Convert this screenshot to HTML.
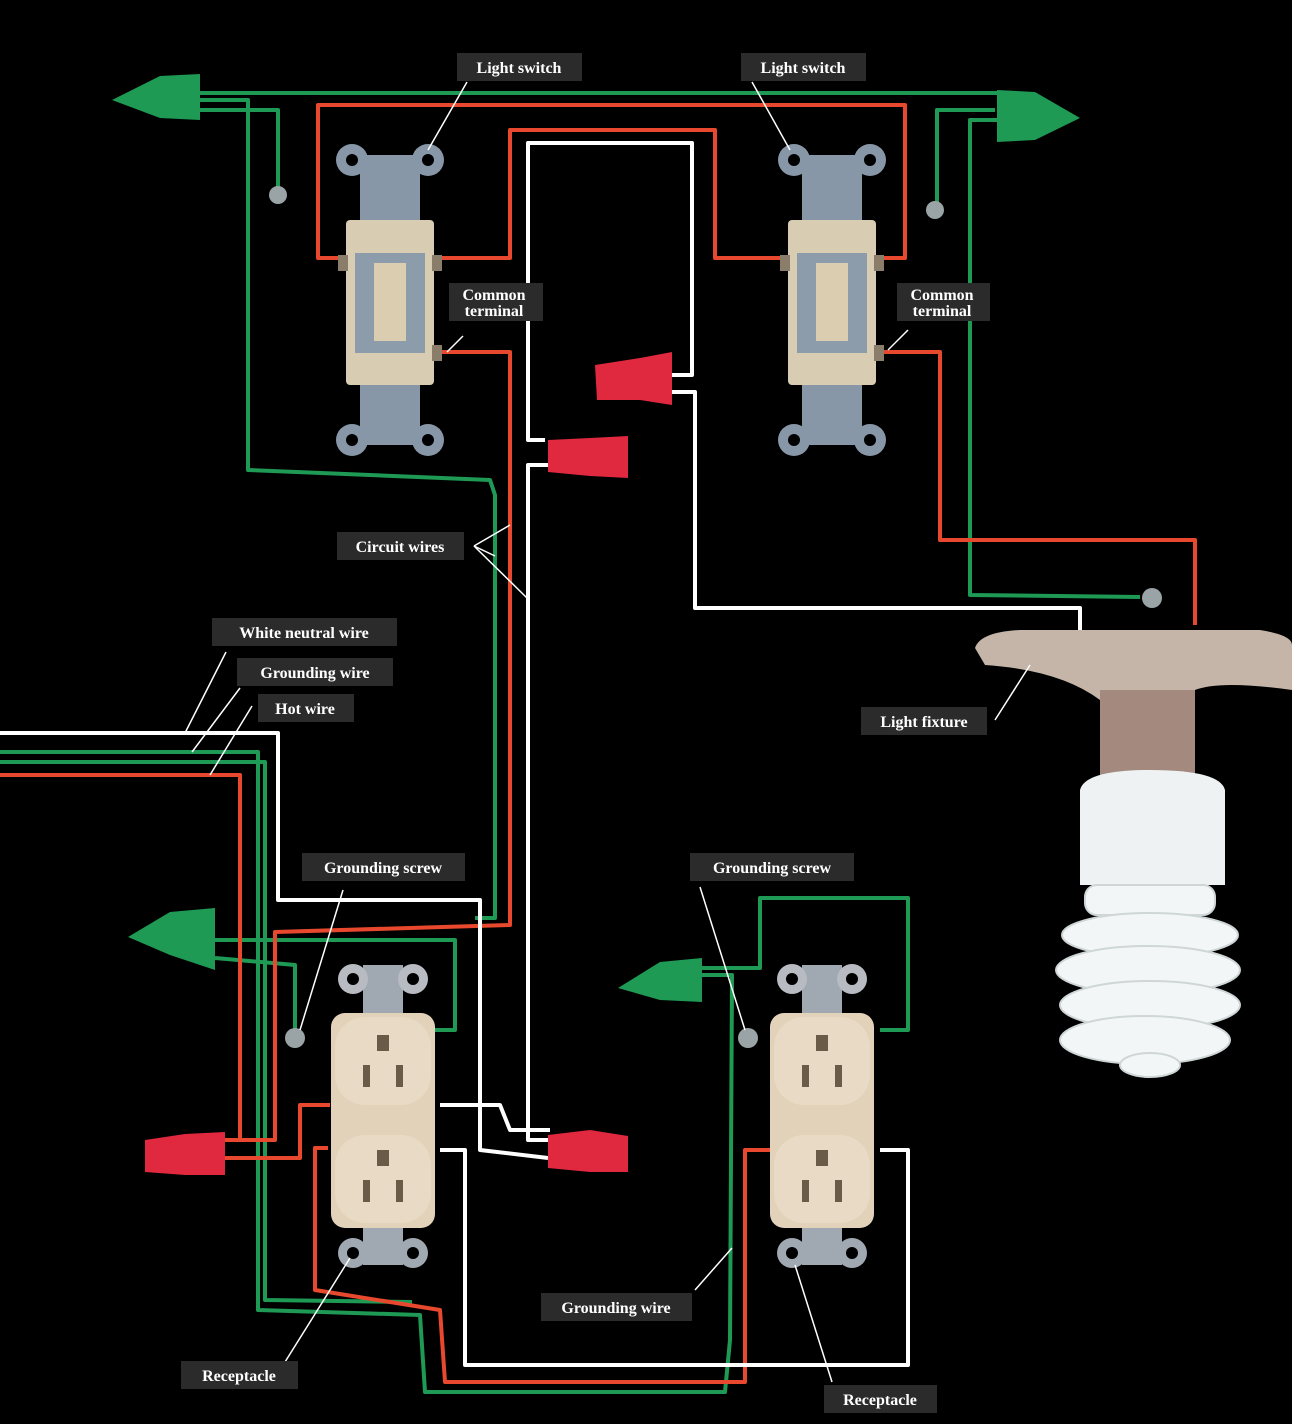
<!DOCTYPE html>
<html><head><meta charset="utf-8"><style>
html,body{margin:0;padding:0;background:#000;}
svg{display:block}
.lb rect{fill:#2b2b2b}
.lb text{fill:#fff;font-family:"Liberation Serif",serif;font-weight:bold;font-size:16px}
.ld{stroke:#fff;stroke-width:1.5;fill:none}
</style></head><body>
<svg width="1292" height="1424" viewBox="0 0 1292 1424" xmlns="http://www.w3.org/2000/svg">
<rect width="1292" height="1424" fill="#000"/>
<defs>
<g id="sw">
 <rect x="-30" y="10" width="60" height="290" fill="#8797a8"/>
 <circle cx="-38" cy="15" r="16" fill="#8797a8"/><circle cx="38" cy="15" r="16" fill="#8797a8"/>
 <circle cx="-38" cy="15" r="6" fill="#000"/><circle cx="38" cy="15" r="6" fill="#000"/>
 <circle cx="-38" cy="295" r="16" fill="#8797a8"/><circle cx="38" cy="295" r="16" fill="#8797a8"/>
 <circle cx="-38" cy="295" r="6" fill="#000"/><circle cx="38" cy="295" r="6" fill="#000"/>
 <rect x="-44" y="75" width="88" height="165" rx="4" fill="#d8ccb2"/>
 <rect x="-35" y="108" width="70" height="100" fill="#8d9cab"/>
 <rect x="-16" y="118" width="32" height="78" fill="#dacdb0"/>
 <rect x="-52" y="110" width="10" height="16" fill="#8a7d6a"/><rect x="42" y="110" width="10" height="16" fill="#8a7d6a"/>
 <rect x="42" y="200" width="10" height="16" fill="#8a7d6a"/>
</g>
<g id="rc">
 <rect x="-20" y="0" width="40" height="300" fill="#a0a8b2"/>
 <circle cx="-30" cy="14" r="15" fill="#b8bcc2"/><circle cx="30" cy="14" r="15" fill="#b8bcc2"/>
 <circle cx="-30" cy="14" r="6" fill="#000"/><circle cx="30" cy="14" r="6" fill="#000"/>
 <circle cx="-30" cy="288" r="15" fill="#a0a8b2"/><circle cx="30" cy="288" r="15" fill="#a0a8b2"/>
 <circle cx="-30" cy="288" r="6" fill="#000"/><circle cx="30" cy="288" r="6" fill="#000"/>
 <rect x="-52" y="48" width="104" height="215" rx="14" fill="#e2d2ba"/>
 <rect x="-48" y="52" width="96" height="88" rx="30" fill="#e8dac4"/>
 <rect x="-48" y="170" width="96" height="88" rx="30" fill="#e8dac4"/>
 <rect x="-20" y="100" width="7" height="22" fill="#6a5a48"/><rect x="13" y="100" width="7" height="22" fill="#6a5a48"/>
 <rect x="-20" y="215" width="7" height="22" fill="#6a5a48"/><rect x="13" y="215" width="7" height="22" fill="#6a5a48"/>
 <rect x="-6" y="70" width="12" height="16" fill="#6a5a48"/><rect x="-6" y="185" width="12" height="16" fill="#6a5a48"/>
</g>
</defs>
<g fill="none" stroke-width="4" stroke-linejoin="round">
<!-- green -->
<g stroke="#1e9a55">
 <polyline points="200,93 1000,93"/>
 <polyline points="200,100 248,100 248,470 490,480 495,495 495,918 475,918"/>
 <polyline points="200,110 278,110 278,190"/>
 <polyline points="995,110 937,110 937,205"/>
 <polyline points="1000,120 970,120 970,595 1140,597"/>
 <polyline points="0,752 258,752 258,1310 420,1315 425,1392 725,1392 730,1340 732,975 700,975"/>
 <polyline points="0,762 265,762 265,1300 412,1302"/>
 <polyline points="215,940 455,940 455,1030 435,1030"/>
 <polyline points="215,958 295,965 295,1030"/>
 <polyline points="700,968 760,968 760,898 908,898 908,1030 880,1030"/>
</g>
<!-- red -->
<g stroke="#e8492e">
 <polyline points="338,258 318,258 318,105 905,105 905,258 882,258"/>
 <polyline points="442,258 510,258 510,130 715,130 715,258 780,258"/>
 <polyline points="442,352 510,352 510,925 275,932 275,1140 225,1140"/>
 <polyline points="0,775 240,775 240,1140"/>
 <polyline points="225,1158 300,1158 300,1105 330,1105"/>
 <polyline points="328,1148 315,1148 315,1290 440,1310 445,1382 745,1382 745,1150 772,1150"/>
 <polyline points="882,352 940,352 940,540 1195,540 1195,625"/>
</g>
<!-- white -->
<g stroke="#ffffff">
 <polyline points="670,375 692,375 692,143 528,143 528,440 545,440"/>
 <polyline points="548,465 528,465 528,1140 548,1140"/>
 <polyline points="672,392 695,392 695,608 1080,608 1080,630"/>
 <polyline points="0,733 278,733 278,900 480,900 480,1150 548,1158"/>
 <polyline points="440,1105 500,1105 510,1130 550,1130"/>
 <polyline points="440,1150 465,1150 465,1365 908,1365 908,1150 880,1150"/>
</g>
</g>
<!-- screws -->
<g fill="#9aa3a6"><circle cx="278" cy="195" r="9"/><circle cx="935" cy="210" r="9"/><circle cx="1152" cy="598" r="10"/><circle cx="295" cy="1038" r="10"/><circle cx="748" cy="1038" r="10"/></g>
<!-- wire nuts -->
<g fill="#1e9a55">
 <polygon points="112,100 160,76 200,74 200,120 160,118"/>
 <polygon points="1080,118 1035,92 997,90 997,142 1035,140"/>
 <polygon points="128,937 170,912 215,908 215,970 170,955"/>
 <polygon points="618,988 660,962 702,958 702,1002 660,1000"/>
</g>
<g fill="#e0283e">
 <polygon points="595,365 640,358 672,352 672,405 640,400 597,400"/>
 <polygon points="548,440 590,438 628,436 628,478 590,476 548,472"/>
 <polygon points="145,1140 185,1134 225,1132 225,1175 185,1175 145,1172"/>
 <polygon points="548,1135 590,1130 628,1136 628,1172 590,1172 548,1168"/>
</g>
<use href="#sw" x="390" y="145"/>
<use href="#sw" x="832" y="145"/>
<use href="#rc" x="383" y="965"/>
<use href="#rc" x="822" y="965"/>
<!-- light fixture -->
<path d="M975,648 Q980,632 1020,630 L1260,630 Q1292,635 1292,645 L1292,690 Q1220,680 1195,690 L1195,770 L1105,770 L1100,700 Q1060,670 985,665 Z" fill="#c4b5a8"/>
<rect x="1100" y="690" width="95" height="85" fill="#a3897e"/>
<path d="M1080,790 Q1085,770 1150,770 Q1220,770 1225,790 L1225,885 L1080,885 Z" fill="#eef2f2"/>
<g fill="#f3f6f6" stroke="#cfd6d8" stroke-width="2">
 <rect x="1085" y="885" width="130" height="30" rx="12"/>
 <ellipse cx="1150" cy="935" rx="88" ry="22"/>
 <ellipse cx="1148" cy="970" rx="92" ry="24"/>
 <ellipse cx="1150" cy="1005" rx="90" ry="24"/>
 <ellipse cx="1145" cy="1040" rx="85" ry="24"/>
 <ellipse cx="1150" cy="1065" rx="30" ry="12"/>
</g>
<!-- leader lines -->
<g class="ld">
 <line x1="467" y1="82" x2="428" y2="150"/>
 <line x1="752" y1="82" x2="790" y2="150"/>
 <line x1="463" y1="336" x2="447" y2="352"/>
 <line x1="908" y1="330" x2="888" y2="350"/>
 <line x1="474" y1="546" x2="510" y2="525"/>
 <line x1="474" y1="546" x2="527" y2="598"/>
 <line x1="474" y1="546" x2="495" y2="556"/>
 <line x1="226" y1="652" x2="185" y2="733"/>
 <line x1="240" y1="688" x2="192" y2="752"/>
 <line x1="252" y1="706" x2="210" y2="775"/>
 <line x1="1030" y1="665" x2="995" y2="720"/>
 <line x1="343" y1="890" x2="300" y2="1030"/>
 <line x1="700" y1="887" x2="745" y2="1030"/>
 <line x1="695" y1="1290" x2="732" y2="1248"/>
 <line x1="285" y1="1362" x2="350" y2="1258"/>
 <line x1="832" y1="1382" x2="795" y2="1265"/>
</g>
<!-- labels -->
<g class="lb">
 <rect x="457" y="53" width="125" height="28"/><text x="519" y="73" text-anchor="middle">Light switch</text>
 <rect x="741" y="53" width="125" height="28"/><text x="803" y="73" text-anchor="middle">Light switch</text>
 <rect x="449" y="283" width="94" height="38"/><text x="494" y="300" text-anchor="middle">Common</text><text x="494" y="316" text-anchor="middle">terminal</text>
 <rect x="897" y="283" width="93" height="38"/><text x="942" y="300" text-anchor="middle">Common</text><text x="942" y="316" text-anchor="middle">terminal</text>
 <rect x="337" y="532" width="127" height="28"/><text x="400" y="552" text-anchor="middle">Circuit wires</text>
 <rect x="212" y="618" width="185" height="28"/><text x="304" y="638" text-anchor="middle">White neutral wire</text>
 <rect x="237" y="658" width="156" height="28"/><text x="315" y="678" text-anchor="middle">Grounding wire</text>
 <rect x="258" y="694" width="96" height="28"/><text x="305" y="714" text-anchor="middle">Hot wire</text>
 <rect x="861" y="707" width="126" height="28"/><text x="924" y="727" text-anchor="middle">Light fixture</text>
 <rect x="302" y="853" width="163" height="28"/><text x="383" y="873" text-anchor="middle">Grounding screw</text>
 <rect x="690" y="853" width="164" height="28"/><text x="772" y="873" text-anchor="middle">Grounding screw</text>
 <rect x="541" y="1293" width="151" height="28"/><text x="616" y="1313" text-anchor="middle">Grounding wire</text>
 <rect x="181" y="1361" width="117" height="28"/><text x="239" y="1381" text-anchor="middle">Receptacle</text>
 <rect x="824" y="1385" width="113" height="28"/><text x="880" y="1405" text-anchor="middle">Receptacle</text>
</g>
</svg>
</body></html>
